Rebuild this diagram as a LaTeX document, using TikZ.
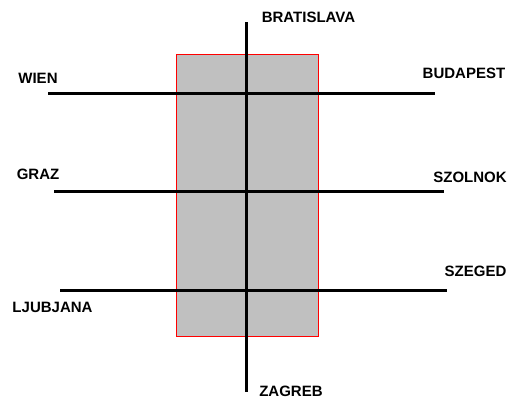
\documentclass[tikz,border=0pt]{standalone}
\usepackage{fontspec}
\setmainfont{Liberation Sans}
\begin{document}
\begin{tikzpicture}[x=1pt,y=-1pt,
  road/.style={line width=3pt,black},
  city/.style={font=\bfseries\fontsize{15}{17}\selectfont,inner sep=0pt,anchor=center},
  zone/.style={fill={rgb,255:red,192;green,192;blue,192},draw=red,line width=0.8pt}]
\useasboundingbox[fill=white] (0,0) rectangle (507,399);
\node[zone,minimum width=142pt,minimum height=282.5pt,inner sep=0pt] (box) at (247,195.5) {};
% coordinates
\coordinate (nS) at (246.5,22);
\coordinate (nE) at (246.5,392);
\coordinate (aW) at (48,93);
\coordinate (aE) at (435,93);
\coordinate (bW) at (54,191.5);
\coordinate (bE) at (444,191.5);
\coordinate (cW) at (60,290);
\coordinate (cE) at (447,290);
\draw[road] (nS) -- (nE);
\draw[road] (aW) -- (aE);
\draw[road] (bW) -- (bE);
\draw[road] (cW) -- (cE);
\node[city] (wien) at (38,78.5) {WIEN};
\node[city] (graz) at (38,174) {GRAZ};
\node[city] (ljub) at (52.5,307.5) {LJUBJANA};
\node[city] (brat) at (308.5,17.5) {BRATISLAVA};
\node[city] (buda) at (464,73) {BUDAPEST};
\node[city] (szol) at (470,177.5) {SZOLNOK};
\node[city] (szeg) at (475.5,271) {SZEGED};
\node[city] (zagr) at (291,391) {ZAGREB};
\end{tikzpicture}
\end{document}
